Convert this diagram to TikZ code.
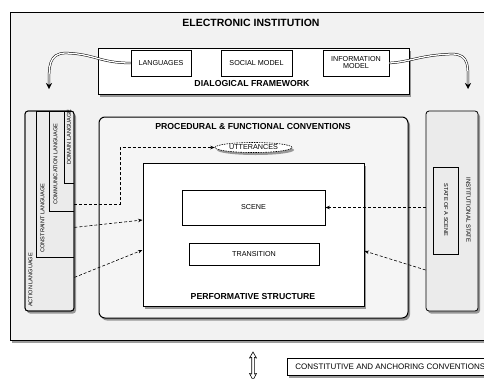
\documentclass[tikz,border=0pt]{standalone}
\usepackage{fontspec}
\setmainfont{Liberation Sans}
\usetikzlibrary{arrows.meta,shadows,shapes.geometric,calc}
\begin{document}
\begin{tikzpicture}[x=1pt,y=-1pt,
  shad/.style={drop shadow={shadow xshift=2pt,shadow yshift=-2.5pt,opacity=0.55,fill=black!70}},
  frame/.style={draw=black,line width=1pt,inner sep=0pt},
  ibox/.style={draw=black,line width=0.8pt,inner sep=0pt,fill=white,font=\fontsize{7.2}{8}\selectfont},
  title/.style={font=\bfseries\fontsize{8.7}{9}\selectfont,inner sep=0pt},
  vlab/.style={font=\fontsize{5.6}{6}\selectfont,inner sep=0pt},
  conn/.style={dashed,dash pattern=on 3pt off 2pt,line width=0.6pt},
  tip/.style={-{Stealth[length=4.5pt,width=3.5pt]}},
  bigarrow/.style={draw=black,double=white,double distance=1.3pt,line width=0.5pt,-{Stealth[length=6pt,width=6pt]}}
]
\useasboundingbox (0,0) rectangle (484,378);
\fill[white] (0,0) rectangle (484,378);
% outer
\node[frame,fill=black!5,shad,minimum width=500pt,minimum height=328pt] (ei) at (260,176) {};
\node[title,font=\bfseries\fontsize{10.5}{11}\selectfont] (eit) at (251,23) {ELECTRONIC INSTITUTION};
% dialogical framework
\node[frame,fill=white,shad,minimum width=311pt,minimum height=46pt] (df) at (253.5,71) {};
\node[title] (dft) at (252,84) {DIALOGICAL FRAMEWORK};
\node[ibox,minimum width=60pt,minimum height=26pt] (lang) at (161,63) {LANGUAGES};
\node[ibox,minimum width=71pt,minimum height=26pt] (soc) at (256.5,63) {SOCIAL MODEL};
\node[ibox,minimum width=66pt,minimum height=26pt,align=center] (info) at (356,63) {INFORMATION\\[-1pt]MODEL};
% curved arrows
\coordinate (la) at (49,89);
\coordinate (ra) at (468,89);
\draw[bigarrow] (lang.west) .. controls (100,63) and (95,54) .. (66,53) .. controls (48,53) and (49,68) .. (la);
\draw[bigarrow] (info.east) .. controls (410,62) and (420,55) .. (452,54) .. controls (470,54) and (468,68) .. (ra);
% left language panel
\node[draw=black,line width=0.8pt,fill=black!8,rounded corners=3pt,shad,minimum width=49pt,minimum height=200pt,inner sep=0pt] (act) at (49.5,211) {};
\begin{scope}
\clip[rounded corners=3pt] (25,111) rectangle (74,311);
\node[draw=black,line width=0.8pt,minimum width=38pt,minimum height=146pt,inner sep=0pt] (cons) at (55,184) {};
\node[draw=black,line width=0.8pt,minimum width=25pt,minimum height=100pt,inner sep=0pt] (comm) at (61.5,161) {};
\node[draw=black,line width=0.8pt,minimum width=10pt,minimum height=72pt,inner sep=0pt] (dom) at (69,147) {};
\end{scope}
\draw[line width=0.8pt,rounded corners=3pt] (25,111) rectangle (74,311);
\node[vlab,rotate=90] (actl) at (30.5,280) {ACTION LANGUAGE};
\node[vlab,rotate=90] (consl) at (42.5,218) {CONSTRAINT LANGUAGE};
\node[vlab,rotate=90] (comml) at (55.5,164) {COMMUNICATION LANGUAGE};
\node[vlab,rotate=90] (doml) at (69,137) {DOMAIN LANGUAGE};
% institutional state
\node[draw=black,line width=0.8pt,fill=black!8,rounded corners=3pt,shad,minimum width=52pt,minimum height=200pt,inner sep=0pt] (inst) at (452,211) {};
\node[draw=black,line width=0.8pt,minimum width=25pt,minimum height=87pt,inner sep=0pt] (sos) at (445.5,210.5) {};
\node[vlab,rotate=-90] (sosl) at (446,210) {STATE OF A SCENE};
\node[vlab,rotate=-90,font=\fontsize{6}{6}\selectfont] (instl) at (468.5,210) {INSTITUTIONAL STATE};
% procedural
\node[frame,fill=black!4,rounded corners=6pt,shad,minimum width=309pt,minimum height=201pt] (proc) at (253.5,217.5) {};
\node[title] (proct) at (253,127) {PROCEDURAL \& FUNCTIONAL CONVENTIONS};
\node[draw=black,dashed,dash pattern=on 1.5pt off 1pt,line width=0.6pt,fill=white,ellipse,shad,minimum width=77pt,minimum height=10pt,inner sep=0pt,font=\fontsize{7.2}{7}\selectfont] (utt) at (253.5,147.5) {UTTERANCES};
\node[frame,fill=white,shad,minimum width=221pt,minimum height=143pt] (perf) at (253.5,234.5) {};
\node[title] (perft) at (253,296) {PERFORMATIVE STRUCTURE};
\node[ibox,minimum width=143pt,minimum height=35pt] (scene) at (253.5,207.5) {SCENE};
\node[ibox,minimum width=130pt,minimum height=22pt] (trans) at (254,254) {TRANSITION};
% dashed connectors
\draw[conn,tip] ([yshift=7pt]comm.south east) -- ++(46,0) |- (utt.west);
\draw[conn,tip] ([yshift=30pt]cons.south east) -- ([yshift=14.5pt]perf.west);
\draw[conn,tip] ([yshift=34pt]act.south east) -- ([yshift=-15.5pt]perf.west);
\draw[conn,tip] (inst.west |- scene.east) -- (scene.east);
\draw[conn,tip] ([yshift=-59pt]inst.west) -- ([yshift=-16.5pt]perf.east);
% bottom double-headed arrow
\draw[line width=0.6pt,fill=white,line join=miter]
  (253,352) -- (256.5,358) -- (254.3,357.5) -- (254.3,374) -- (256.5,373.5) -- (253,380)
  -- (249.5,373.5) -- (251.7,374) -- (251.7,357.5) -- (249.5,358) -- cycle;
\node[draw=black,line width=0.8pt,fill=white,shad,anchor=west,inner xsep=8pt,minimum height=17pt,inner ysep=0pt,font=\fontsize{8}{8}\selectfont] (cac) at (287,366.5) {CONSTITUTIVE AND ANCHORING CONVENTIONS};
\end{tikzpicture}
\end{document}
